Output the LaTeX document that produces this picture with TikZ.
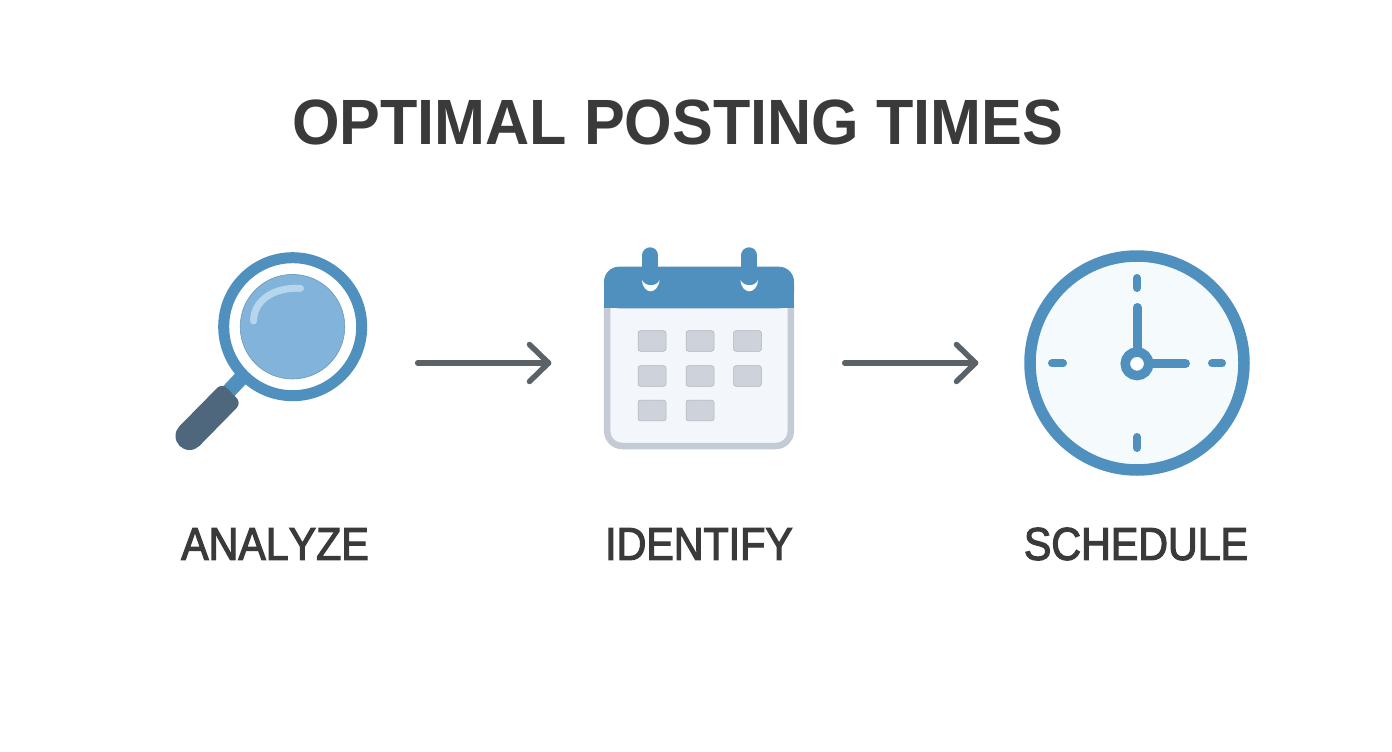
\documentclass[tikz,border=0pt]{standalone}
\usepackage{fontspec}
\setmainfont{Liberation Sans}
\newfontfamily\titlefont[FakeStretch=0.955]{Liberation Sans Bold}
\newfontfamily\labelfont[FakeBold=2.5,FakeStretch=0.895,Kerning=Off]{Liberation Sans}
\definecolor{ink}{HTML}{3A3A3A}
\definecolor{blue}{HTML}{4F90BF}
\definecolor{lens}{HTML}{82B3DA}
\definecolor{shine}{HTML}{B5D6EC}
\definecolor{grip}{HTML}{4F677C}
\definecolor{arrowc}{HTML}{5A6268}
\definecolor{calbg}{HTML}{F3F6FA}
\definecolor{calrim}{HTML}{C5CBD5}
\definecolor{cell}{HTML}{CDD2DB}
\definecolor{face}{HTML}{F5FAFD}
\tikzset{
  titletext/.style={font=\titlefont\fontsize{64}{64}\selectfont,text=ink,inner sep=0},
  labeltext/.style={font=\labelfont\fontsize{46}{46}\selectfont,text=ink,inner sep=0},
  flow/.style={draw=arrowc,line width=5.5,line cap=round,line join=round},
  cellbox/.style={fill=cell,draw=cell!85!black,line width=.5,rounded corners=2.5},
  tick/.style={draw=blue,line width=8,line cap=round},
  hand/.style={draw=blue,line width=9,line cap=round},
  peg/.style={draw=blue,line width=16,line cap=round}
}
\begin{document}
\begin{tikzpicture}[x=1pt,y=-1pt]
\useasboundingbox (0,0) rectangle (1392,752);
\fill[white] (0,0) rectangle (1392,752);
\node[titletext] (title) at (677.5,122) {OPTIMAL POSTING TIMES};
% magnifier
\draw[blue,line width=15] (228,392) -- (245,374);
\fill[grip] (189.5,436) circle (14);
\fill[grip] (179.6,426.1) [rounded corners=7] -- (222,383) -- (241.5,403) [sharp corners] -- (199.4,445.9) -- cycle;
\draw[blue,line width=11,fill=white] (292.7,326.7) circle (69);
\draw[lens!85!black,line width=.6,fill=lens] (292.5,326.7) circle (52.3);
\draw[shine,line width=7,line cap=round] (253.5,321) .. controls (254,300) and (274,287) .. (300.5,288.3);
% calendar
\draw[calrim,line width=6.5,fill=calbg,rounded corners=15] (607.2,290) rectangle (790.8,446);
\fill[blue,rounded corners=15] (604,308.3) -- (604,266.7) -- (794,266.7) -- (794,308.3) -- cycle;
\fill[blue] (604,295) rectangle (794,308.3);
\draw[peg] (650.3,255.3) -- (650.3,283);
\draw[peg] (749.3,255.3) -- (749.3,283);
\fill[white] (642,280) .. controls (643,295) and (658,295) .. (659.5,280) .. controls (657,287) and (645,287) .. (642,280) -- cycle;
\fill[white] (740.5,280) .. controls (741.5,295) and (757,295) .. (758,280) .. controls (755.5,287) and (743.5,287) .. (740.5,280) -- cycle;
\foreach \cx/\cy in {652/341,700/341,747.5/341,652/376,700/376,747.5/376,652/410.5,700/410.5}
  \draw[cellbox] (\cx-14,\cy-10.3) rectangle (\cx+14,\cy+10.3);
% clock
\draw[blue,line width=11.5,fill=face] (1137,363) circle (107);
\draw[tick] (1137,278) -- (1137,288);
\draw[tick] (1137,437) -- (1137,448);
\draw[tick] (1052,363.3) -- (1063,363.3);
\draw[tick] (1212,363.3) -- (1222,363.3);
\draw[hand] (1137,307.5) -- (1137,352);
\draw[hand] (1148,363.5) -- (1185.5,363.5);
\draw[blue,line width=9.5,fill=white] (1137,363.8) circle (11.75);
% arrows
\coordinate (a1s) at (417.7,363);
\coordinate (a1e) at (548.5,363);
\coordinate (a2s) at (844.7,363);
\coordinate (a2e) at (975.5,363);
\draw[flow] (a1s) -- (a1e);
\draw[flow] ([shift={(-19,-18.5)}]a1e) -- (a1e) -- ([shift={(-19,18.5)}]a1e);
\draw[flow] (a2s) -- (a2e);
\draw[flow] ([shift={(-19,-18.5)}]a2e) -- (a2e) -- ([shift={(-19,18.5)}]a2e);
% labels
\node[labeltext] (analyze) at (275,544) {ANALYZE};
\node[labeltext] (identify) at (699,544) {IDENTIFY};
\node[labeltext] (schedule) at (1136,544) {SCHEDULE};
\end{tikzpicture}
\end{document}
